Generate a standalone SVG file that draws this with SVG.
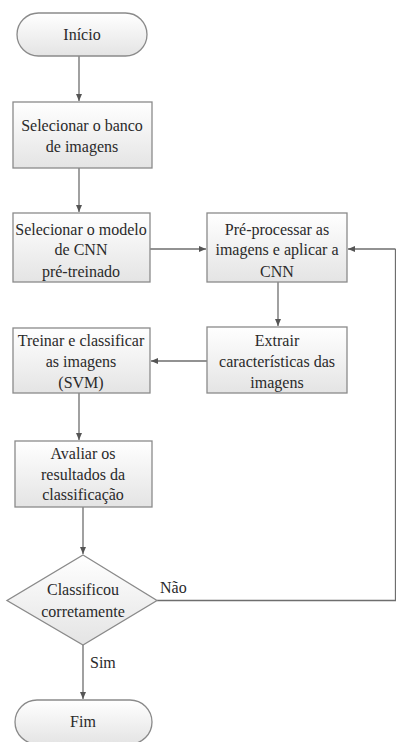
<svg xmlns="http://www.w3.org/2000/svg" width="396" height="742" viewBox="0 0 396 742">
<style>
.n{stroke:#8a8a8a;stroke-width:1.3;fill:url(#g)}
text{font-family:'Liberation Serif','Times New Roman',serif;font-size:16px;fill:#2a2a2a}
.t{text-anchor:middle}
.c{stroke:#6e6e6e;stroke-width:1.3;fill:none}
</style>
<defs>
<linearGradient id="g" x1="0" y1="0" x2="0" y2="1">
<stop offset="0" stop-color="#ffffff"/>
<stop offset="1" stop-color="#e4e4e4"/>
</linearGradient>
<marker id="a" markerWidth="8" markerHeight="8" refX="7" refY="4" orient="auto" markerUnits="userSpaceOnUse">
<path d="M0,1 L7,4 L0,7 Z" fill="#555"/>
</marker>
</defs>
<rect width="396" height="742" fill="#fff"/>
<g id="connectors">
<line class="c" x1="79" y1="56" x2="79" y2="101" marker-end="url(#a)"/>
<line class="c" x1="79" y1="168" x2="79" y2="212" marker-end="url(#a)"/>
<line class="c" x1="150" y1="249" x2="206" y2="249" marker-end="url(#a)"/>
<line class="c" x1="395.5" y1="249" x2="348" y2="249" marker-end="url(#a)"/>
<line class="c" x1="278" y1="282" x2="278" y2="326" marker-end="url(#a)"/>
<line class="c" x1="207" y1="361" x2="151" y2="361" marker-end="url(#a)"/>
<line class="c" x1="79" y1="393" x2="79" y2="440" marker-end="url(#a)"/>
<line class="c" x1="83" y1="507" x2="83" y2="554" marker-end="url(#a)"/>
<polyline class="c" points="157,600.5 395.5,600.5 395.5,249"/>
<line class="c" x1="83" y1="645" x2="83" y2="699" marker-end="url(#a)"/>
<text x="160" y="593">Não</text>
<text x="90" y="668">Sim</text>
</g>
<g id="inicio">
<rect class="n" x="17" y="13" width="130" height="43" rx="21.5"/>
<text class="t" x="82" y="40">Início</text>
</g>
<g id="banco">
<rect class="n" x="13" y="102" width="139" height="66"/>
<text class="t" x="82" y="131">Selecionar o banco</text>
<text class="t" x="82" y="152">de imagens</text>
</g>
<g id="modelo">
<rect class="n" x="13" y="213" width="137" height="69"/>
<text class="t" x="81" y="234.5">Selecionar o modelo</text>
<text class="t" x="81" y="255">de CNN</text>
<text class="t" x="81" y="276.5">pré-treinado</text>
</g>
<g id="preprocessar">
<rect class="n" x="207" y="213" width="140" height="69"/>
<text class="t" x="277" y="234.5">Pré-processar as</text>
<text class="t" x="277" y="255">imagens e aplicar a</text>
<text class="t" x="277" y="276.5">CNN</text>
</g>
<g id="extrair">
<rect class="n" x="207" y="327" width="140" height="66"/>
<text class="t" x="277" y="346">Extrair</text>
<text class="t" x="277" y="367">características das</text>
<text class="t" x="277" y="388">imagens</text>
</g>
<g id="treinar">
<rect class="n" x="13" y="328" width="137" height="65"/>
<text class="t" x="81" y="346">Treinar e classificar</text>
<text class="t" x="81" y="367">as imagens</text>
<text class="t" x="81" y="387.5">(SVM)</text>
</g>
<g id="avaliar">
<rect class="n" x="15" y="441" width="137" height="66"/>
<text class="t" x="83" y="458.5">Avaliar os</text>
<text class="t" x="83" y="479.5">resultados da</text>
<text class="t" x="83" y="500">classificação</text>
</g>
<g id="decisao">
<polygon class="n" points="83,555 157,600.5 83,645 7,600.5"/>
<text class="t" x="83" y="595">Classificou</text>
<text class="t" x="83" y="617">corretamente</text>
</g>
<g id="fim">
<rect class="n" x="15" y="700" width="137" height="44" rx="22"/>
<text class="t" x="83" y="727">Fim</text>
</g>
</svg>
